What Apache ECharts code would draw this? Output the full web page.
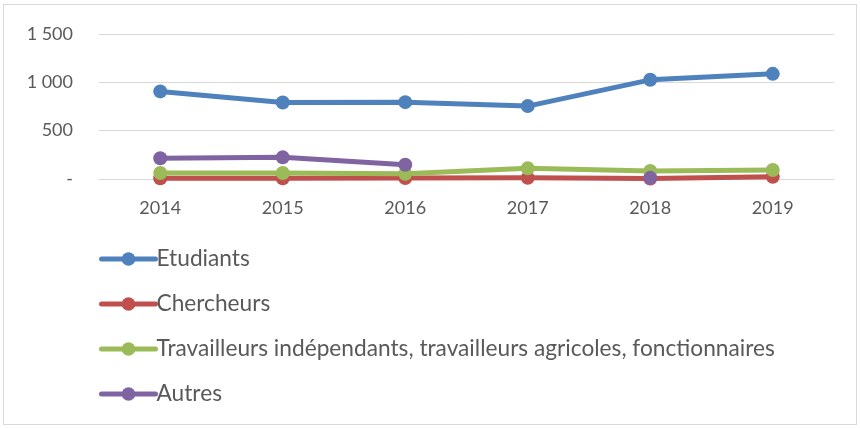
<!DOCTYPE html>
<html>
<head>
<meta charset="utf-8">
<script src="https://cdn.jsdelivr.net/npm/echarts@6/dist/echarts.min.js"></script>
<style>
    html, body {margin: 0; padding: 0; background: #fff;}
    #frame {position: absolute; left: 3px; top: 4px; width: 852px; height: 419px; border: 1px solid #d9d9d9;}
    #chart {position: absolute; left: 0; top: 0; width: 860px; height: 428px;}
</style>
</head>
<body>
<div id="frame"></div>
<div id="chart"></div>
<script>
const years = ['2014', '2015', '2016', '2017', '2018', '2019'];
const etudiants = [906, 792, 795, 754, 1026, 1088];
const chercheurs = [8, 8, 10, 12, 5, 24];
const travailleurs = [62, 62, 55, 110, 83, 93];
const autres = [214, 224, 148, null, 12, null];
const yTicks = [0, 500, 1000, 1500];

const seriesNames = [
    'Etudiants',
    'Chercheurs',
    'Travailleurs indépendants, travailleurs agricoles, fonctionnaires',
    'Autres',
];
const seriesValues = [etudiants, chercheurs, travailleurs, autres];
const colors = ['#4f81bd', '#c0504d', '#9bbb59', '#8064a2'];

const formatTick = value => {
    if (value === 0) {
        return '-';
    }
    return String(value).replace(/\B(?=(\d{3})+(?!\d))/g, ' ');
};

const chart = echarts.init(document.getElementById('chart'));
chart.setOption({
    animation: false,
    color: colors,
    textStyle: {fontFamily: 'Lato', color: '#595959'},
    grid: {left: 99, right: 26, top: 34, bottom: 249},
    legend: {
        orient: 'vertical',
        left: 99,
        top: 247,
        padding: 0,
        itemWidth: 54,
        itemHeight: 17,
        itemGap: 21,
        lineStyle: {width: 5, cap: 'round'},
        itemStyle: {borderWidth: 0},
        textStyle: {fontSize: 22.7, lineHeight: 24, color: '#595959', padding: [0, 0, 0, -4]},
        data: seriesNames,
    },
    xAxis: {
        type: 'category',
        boundaryGap: true,
        data: years,
        axisLine: {show: true, lineStyle: {color: '#d9d9d9', width: 1}},
        axisTick: {show: false},
        axisLabel: {fontSize: 18, color: '#595959', margin: 20},
    },
    yAxis: {
        type: 'value',
        min: yTicks[0],
        max: yTicks[yTicks.length - 1],
        interval: yTicks[1] - yTicks[0],
        axisLine: {show: false},
        axisTick: {show: false},
        splitLine: {lineStyle: {color: '#d9d9d9', width: 1}},
        axisLabel: {fontSize: 18, color: '#595959', margin: 26, formatter: formatTick},
    },
    series: seriesNames.map((name, i) => ({
        name,
        type: 'line',
        data: seriesValues[i],
        symbol: 'circle',
        symbolSize: 14,
        showSymbol: true,
        connectNulls: false,
        lineStyle: {width: 5, cap: 'round', join: 'round'},
        itemStyle: {color: colors[i]},
    })),
});
</script>
</body>
</html>
